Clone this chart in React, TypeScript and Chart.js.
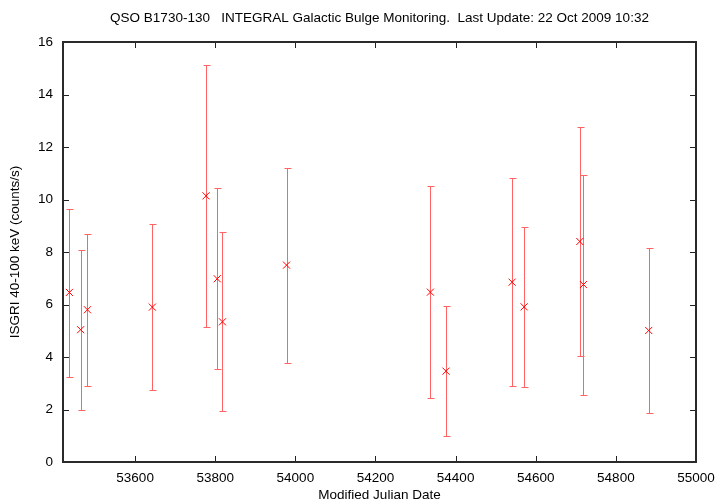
import React, { useEffect, useRef } from "react";
import { Chart, registerables } from "chart.js";

Chart.register(...registerables);

const TITLE = "QSO B1730-130   INTEGRAL Galactic Bulge Monitoring.  Last Update: 22 Oct 2009 10:32";
const X_LABEL = "Modified Julian Date";
const Y_LABEL = "ISGRI 40-100 keV (counts/s)";

const mjd = [53436, 53464, 53481, 53643, 53777, 53805, 53818, 53978, 54337, 54376, 54541, 54571, 54710, 54719, 54882];
const rate = [6.46, 5.04, 5.80, 5.90, 10.14, 6.98, 5.34, 7.50, 6.47, 3.46, 6.85, 5.91, 8.40, 6.76, 5.01];
const rateLow = [3.23, 1.99, 2.89, 2.74, 5.15, 3.54, 1.93, 3.77, 2.44, 0.99, 2.89, 2.85, 4.03, 2.57, 1.85];
const rateHigh = [9.65, 8.09, 8.68, 9.06, 15.12, 10.42, 8.76, 11.21, 10.51, 5.94, 10.81, 8.96, 12.78, 10.94, 8.16];

const X_MIN = 53420;
const X_MAX = 55000;
const X_TICKS = [53600, 53800, 54000, 54200, 54400, 54600, 54800, 55000];
const Y_MIN = 0;
const Y_MAX = 16;
const Y_TICKS = [0, 2, 4, 6, 8, 10, 12, 14, 16];

const FONT = "'Liberation Sans', Arial, Helvetica, sans-serif";
const FS = 13.5;

const errorBarPlugin = {
  id: "errorBars",
  beforeDatasetsDraw(chart: any) {
    const { ctx, scales } = chart;
    const xs = scales.x;
    const ys = scales.y;
    ctx.save();
    ctx.strokeStyle = "#ff6464";
    ctx.lineWidth = 1;
    for (let i = 0; i < mjd.length; i++) {
      const x = Math.round(xs.getPixelForValue(mjd[i])) + 0.5;
      const yl = Math.round(ys.getPixelForValue(rateLow[i])) + 0.5;
      const yh = Math.round(ys.getPixelForValue(rateHigh[i])) + 0.5;
      ctx.beginPath();
      ctx.moveTo(x, yl);
      ctx.lineTo(x, yh);
      ctx.moveTo(x - 3, yl);
      ctx.lineTo(x + 4, yl);
      ctx.moveTo(x - 3, yh);
      ctx.lineTo(x + 4, yh);
      ctx.stroke();
    }
    ctx.restore();
  },
};

const framePlugin = {
  id: "frame",
  afterDraw(chart: any) {
    const { ctx, chartArea, scales } = chart;
    const { left, right, top, bottom } = chartArea;
    ctx.save();
    ctx.strokeStyle = "#222";
    ctx.lineWidth = 1;
    const T = 6;
    ctx.beginPath();
    for (const t of scales.x.ticks) {
      const x = Math.round(scales.x.getPixelForValue(t.value)) + 0.5;
      if (x <= left + 1 || x >= right - 1) continue;
      ctx.moveTo(x, bottom);
      ctx.lineTo(x, bottom - T);
      ctx.moveTo(x, top);
      ctx.lineTo(x, top + T);
    }
    for (const t of scales.y.ticks) {
      const y = Math.round(scales.y.getPixelForValue(t.value)) + 0.5;
      if (y <= top + 1 || y >= bottom - 1) continue;
      ctx.moveTo(left, y);
      ctx.lineTo(left + T, y);
      ctx.moveTo(right, y);
      ctx.lineTo(right - T, y);
    }
    ctx.stroke();
    ctx.lineWidth = 2;
    ctx.strokeStyle = "#2a2a2a";
    ctx.strokeRect(Math.round(left), Math.round(top), Math.round(right - left), Math.round(bottom - top));
    ctx.restore();
  },
};

function zeroPad(scale: any) {
  scale.paddingTop = 0;
  scale.paddingBottom = 0;
  scale.paddingLeft = 0;
  scale.paddingRight = 0;
}

export default function App() {
  const ref = useRef<HTMLCanvasElement | null>(null);
  useEffect(() => {
    if (!ref.current) return;
    const chart = new Chart(ref.current, {
      type: "scatter",
      data: {
        datasets: [
          {
            label: "ISGRI",
            data: mjd.map((m, i) => ({ x: m, y: rate[i] })),
            pointStyle: "crossRot",
            pointRadius: 5,
            pointBorderWidth: 1,
            borderColor: "#ff0000",
            backgroundColor: "#ff0000",
          },
        ],
      },
      options: {
        animation: false,
        responsive: false,
        maintainAspectRatio: false,
        layout: { padding: { left: 0, right: 24, top: 0, bottom: 0 } },
        plugins: {
          legend: { display: false },
          tooltip: { enabled: false },
          title: {
            display: true,
            text: TITLE,
            fullSize: false,
            color: "#000",
            font: { family: FONT, size: FS, weight: "normal", lineHeight: 1.2 },
            padding: { top: 10, bottom: 15.8 },
          },
        },
        scales: {
          x: {
            type: "linear",
            min: X_MIN,
            max: X_MAX,
            afterBuildTicks: (scale: any) => {
              scale.ticks = X_TICKS.map((v) => ({ value: v }));
            },
            afterFit: (scale: any) => {
              scale.height = 42;
              zeroPad(scale);
            },
            grid: { display: false, drawTicks: false },
            border: { display: false },
            ticks: {
              padding: 8,
              color: "#000",
              maxRotation: 0,
              autoSkip: false,
              font: { family: FONT, size: FS },
              callback: (v: any) => String(v),
            },
            title: {
              display: true,
              text: X_LABEL,
              color: "#000",
              font: { family: FONT, size: FS },
              padding: { top: 0, bottom: 1 },
            },
          },
          y: {
            type: "linear",
            min: Y_MIN,
            max: Y_MAX,
            afterBuildTicks: (scale: any) => {
              scale.ticks = Y_TICKS.map((v) => ({ value: v }));
            },
            afterFit: (scale: any) => {
              scale.width = 63;
              zeroPad(scale);
            },
            grid: { display: false, drawTicks: false },
            border: { display: false },
            ticks: {
              padding: 10,
              color: "#000",
              font: { family: FONT, size: FS },
              callback: (v: any) => String(v),
            },
            title: {
              display: true,
              text: Y_LABEL,
              color: "#000",
              font: { family: FONT, size: FS },
              padding: { top: 7, bottom: 0 },
            },
          },
        },
      },
      plugins: [errorBarPlugin, framePlugin],
    });
    return () => chart.destroy();
  }, []);
  return (
    <div style={{ position: "fixed", left: 0, top: 0, width: 720, height: 504, background: "#fff" }}>
      <canvas ref={ref} width={720} height={504} style={{ display: "block" }} />
    </div>
  );
}
